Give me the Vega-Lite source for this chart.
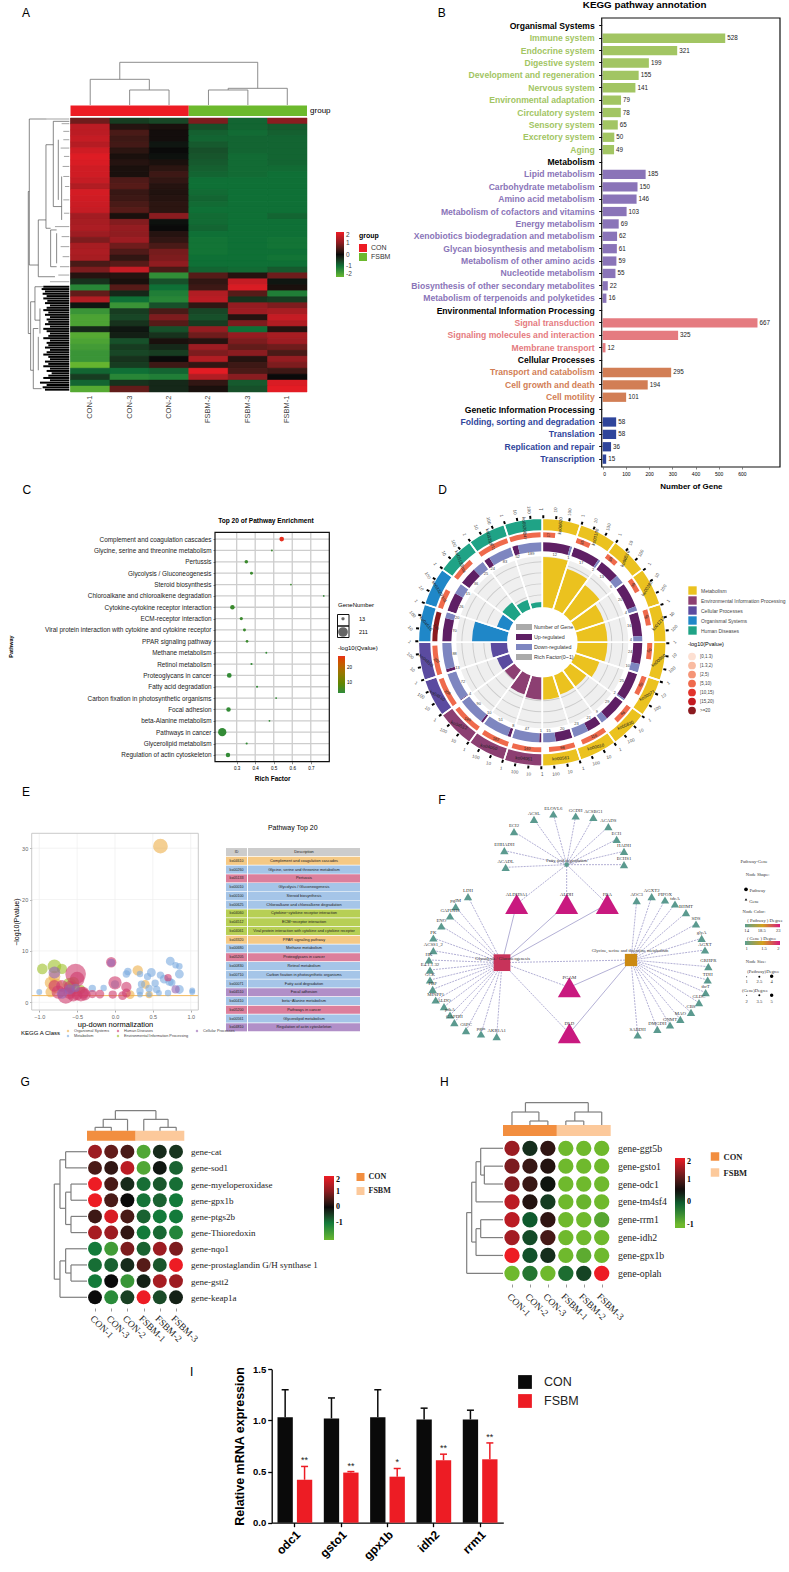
{"$schema":"https://vega.github.io/schema/vega-lite/v6.json","width":789,"height":1572,"padding":0,"autosize":"none","background":"white",
"config":{"font":"Liberation Sans","view":{"stroke":null},"axis":{"grid":false},"legend":{"titleFontWeight":"normal"}},
"resolve":{"scale":{"x":"independent","y":"independent","color":"independent","fill":"independent","stroke":"independent","size":"independent","shape":"independent","theta":"independent","radius":"independent","angle":"independent","xOffset":"independent"}},
"datasets":{
"ha":[{"r":1,"c":"CON-1","v":0.8},{"r":1,"c":"CON-3","v":-0.5},{"r":1,"c":"CON-2","v":-0.6},{"r":1,"c":"FSBM-2","v":0.9},{"r":1,"c":"FSBM-3","v":-0.9},{"r":1,"c":"FSBM-1","v":1},{"r":2,"c":"CON-1","v":1.5},{"r":2,"c":"CON-3","v":0.2},{"r":2,"c":"CON-2","v":0.1},{"r":2,"c":"FSBM-2","v":-0.7},{"r":2,"c":"FSBM-3","v":-0.9},{"r":2,"c":"FSBM-1","v":-0.8},{"r":3,"c":"CON-1","v":1.5},{"r":3,"c":"CON-3","v":0.5},{"r":3,"c":"CON-2","v":0.05},{"r":3,"c":"FSBM-2","v":-0.85},{"r":3,"c":"FSBM-3","v":-0.95},{"r":3,"c":"FSBM-1","v":-0.85},{"r":4,"c":"CON-1","v":1.6},{"r":4,"c":"CON-3","v":0.4},{"r":4,"c":"CON-2","v":0.05},{"r":4,"c":"FSBM-2","v":-0.9},{"r":4,"c":"FSBM-3","v":-0.9},{"r":4,"c":"FSBM-1","v":-0.9},{"r":5,"c":"CON-1","v":1.45},{"r":5,"c":"CON-3","v":0.45},{"r":5,"c":"CON-2","v":-0.1},{"r":5,"c":"FSBM-2","v":-0.8},{"r":5,"c":"FSBM-3","v":-0.9},{"r":5,"c":"FSBM-1","v":-0.9},{"r":6,"c":"CON-1","v":1.7},{"r":6,"c":"CON-3","v":0.25},{"r":6,"c":"CON-2","v":0},{"r":6,"c":"FSBM-2","v":-0.7},{"r":6,"c":"FSBM-3","v":-0.9},{"r":6,"c":"FSBM-1","v":-0.9},{"r":7,"c":"CON-1","v":1.85},{"r":7,"c":"CON-3","v":0.1},{"r":7,"c":"CON-2","v":-0.05},{"r":7,"c":"FSBM-2","v":-0.75},{"r":7,"c":"FSBM-3","v":-0.95},{"r":7,"c":"FSBM-1","v":-0.9},{"r":8,"c":"CON-1","v":1.8},{"r":8,"c":"CON-3","v":0.2},{"r":8,"c":"CON-2","v":0.1},{"r":8,"c":"FSBM-2","v":-0.8},{"r":8,"c":"FSBM-3","v":-0.95},{"r":8,"c":"FSBM-1","v":-0.9},{"r":9,"c":"CON-1","v":1.7},{"r":9,"c":"CON-3","v":0.1},{"r":9,"c":"CON-2","v":0.25},{"r":9,"c":"FSBM-2","v":-0.85},{"r":9,"c":"FSBM-3","v":-0.95},{"r":9,"c":"FSBM-1","v":-0.95},{"r":10,"c":"CON-1","v":1.7},{"r":10,"c":"CON-3","v":0.1},{"r":10,"c":"CON-2","v":0.4},{"r":10,"c":"FSBM-2","v":-0.9},{"r":10,"c":"FSBM-3","v":-0.95},{"r":10,"c":"FSBM-1","v":-1},{"r":11,"c":"CON-1","v":1.6},{"r":11,"c":"CON-3","v":0.55},{"r":11,"c":"CON-2","v":0.3},{"r":11,"c":"FSBM-2","v":-1},{"r":11,"c":"FSBM-3","v":-1},{"r":11,"c":"FSBM-1","v":-1},{"r":12,"c":"CON-1","v":1.4},{"r":12,"c":"CON-3","v":0.6},{"r":12,"c":"CON-2","v":0.2},{"r":12,"c":"FSBM-2","v":-1},{"r":12,"c":"FSBM-3","v":-1},{"r":12,"c":"FSBM-1","v":-1},{"r":13,"c":"CON-1","v":1.75},{"r":13,"c":"CON-3","v":0.35},{"r":13,"c":"CON-2","v":0.15},{"r":13,"c":"FSBM-2","v":-0.95},{"r":13,"c":"FSBM-3","v":-1},{"r":13,"c":"FSBM-1","v":-1},{"r":14,"c":"CON-1","v":1.7},{"r":14,"c":"CON-3","v":0.4},{"r":14,"c":"CON-2","v":0.2},{"r":14,"c":"FSBM-2","v":-0.9},{"r":14,"c":"FSBM-3","v":-1},{"r":14,"c":"FSBM-1","v":-1},{"r":15,"c":"CON-1","v":1.65},{"r":15,"c":"CON-3","v":0.5},{"r":15,"c":"CON-2","v":0.25},{"r":15,"c":"FSBM-2","v":-0.95},{"r":15,"c":"FSBM-3","v":-1},{"r":15,"c":"FSBM-1","v":-1},{"r":16,"c":"CON-1","v":1.6},{"r":16,"c":"CON-3","v":0.6},{"r":16,"c":"CON-2","v":0.25},{"r":16,"c":"FSBM-2","v":-1},{"r":16,"c":"FSBM-3","v":-1},{"r":16,"c":"FSBM-1","v":-1},{"r":17,"c":"CON-1","v":1.25},{"r":17,"c":"CON-3","v":0.1},{"r":17,"c":"CON-2","v":1},{"r":17,"c":"FSBM-2","v":-0.95},{"r":17,"c":"FSBM-3","v":-1},{"r":17,"c":"FSBM-1","v":-0.9},{"r":18,"c":"CON-1","v":1.3},{"r":18,"c":"CON-3","v":0.95},{"r":18,"c":"CON-2","v":-0.05},{"r":18,"c":"FSBM-2","v":-0.95},{"r":18,"c":"FSBM-3","v":-1},{"r":18,"c":"FSBM-1","v":-1},{"r":19,"c":"CON-1","v":1.35},{"r":19,"c":"CON-3","v":1.1},{"r":19,"c":"CON-2","v":0},{"r":19,"c":"FSBM-2","v":-0.9},{"r":19,"c":"FSBM-3","v":-1},{"r":19,"c":"FSBM-1","v":-1},{"r":20,"c":"CON-1","v":1.2},{"r":20,"c":"CON-3","v":1.05},{"r":20,"c":"CON-2","v":0.2},{"r":20,"c":"FSBM-2","v":-1},{"r":20,"c":"FSBM-3","v":-1},{"r":20,"c":"FSBM-1","v":-1},{"r":21,"c":"CON-1","v":0.9},{"r":21,"c":"CON-3","v":1.2},{"r":21,"c":"CON-2","v":0.3},{"r":21,"c":"FSBM-2","v":-1.05},{"r":21,"c":"FSBM-3","v":-1},{"r":21,"c":"FSBM-1","v":-1.05},{"r":22,"c":"CON-1","v":1.3},{"r":22,"c":"CON-3","v":0.8},{"r":22,"c":"CON-2","v":0.5},{"r":22,"c":"FSBM-2","v":-1.05},{"r":22,"c":"FSBM-3","v":-1},{"r":22,"c":"FSBM-1","v":-1.05},{"r":23,"c":"CON-1","v":1.35},{"r":23,"c":"CON-3","v":0.55},{"r":23,"c":"CON-2","v":0.85},{"r":23,"c":"FSBM-2","v":-1.05},{"r":23,"c":"FSBM-3","v":-1},{"r":23,"c":"FSBM-1","v":-1},{"r":24,"c":"CON-1","v":1.3},{"r":24,"c":"CON-3","v":0.3},{"r":24,"c":"CON-2","v":0.9},{"r":24,"c":"FSBM-2","v":-1},{"r":24,"c":"FSBM-3","v":-1},{"r":24,"c":"FSBM-1","v":-1.05},{"r":25,"c":"CON-1","v":0.5},{"r":25,"c":"CON-3","v":0.6},{"r":25,"c":"CON-2","v":1.05},{"r":25,"c":"FSBM-2","v":-1},{"r":25,"c":"FSBM-3","v":-1},{"r":25,"c":"FSBM-1","v":-1},{"r":26,"c":"CON-1","v":0.9},{"r":26,"c":"CON-3","v":1.6},{"r":26,"c":"CON-2","v":0.5},{"r":26,"c":"FSBM-2","v":-0.9},{"r":26,"c":"FSBM-3","v":-0.95},{"r":26,"c":"FSBM-1","v":-0.8},{"r":27,"c":"CON-1","v":0.2},{"r":27,"c":"CON-3","v":0.2},{"r":27,"c":"CON-2","v":-1.4},{"r":27,"c":"FSBM-2","v":0.6},{"r":27,"c":"FSBM-3","v":0.2},{"r":27,"c":"FSBM-1","v":0.8},{"r":28,"c":"CON-1","v":-0.4},{"r":28,"c":"CON-3","v":0.1},{"r":28,"c":"CON-2","v":-0.7},{"r":28,"c":"FSBM-2","v":0.3},{"r":28,"c":"FSBM-3","v":1.6},{"r":28,"c":"FSBM-1","v":-0.1},{"r":29,"c":"CON-1","v":-1.3},{"r":29,"c":"CON-3","v":0.6},{"r":29,"c":"CON-2","v":-1},{"r":29,"c":"FSBM-2","v":0.4},{"r":29,"c":"FSBM-3","v":1.8},{"r":29,"c":"FSBM-1","v":0.1},{"r":30,"c":"CON-1","v":0.7},{"r":30,"c":"CON-3","v":-0.3},{"r":30,"c":"CON-2","v":-1.2},{"r":30,"c":"FSBM-2","v":1.4},{"r":30,"c":"FSBM-3","v":0.6},{"r":30,"c":"FSBM-1","v":-1.2},{"r":31,"c":"CON-1","v":1.4},{"r":31,"c":"CON-3","v":-1},{"r":31,"c":"CON-2","v":-1.3},{"r":31,"c":"FSBM-2","v":1.5},{"r":31,"c":"FSBM-3","v":-0.4},{"r":31,"c":"FSBM-1","v":-0.5},{"r":32,"c":"CON-1","v":-0.1},{"r":32,"c":"CON-3","v":-1.5},{"r":32,"c":"CON-2","v":-0.7},{"r":32,"c":"FSBM-2","v":0.3},{"r":32,"c":"FSBM-3","v":1.1},{"r":32,"c":"FSBM-1","v":0.9},{"r":33,"c":"CON-1","v":-1.5},{"r":33,"c":"CON-3","v":-0.5},{"r":33,"c":"CON-2","v":0.5},{"r":33,"c":"FSBM-2","v":-0.6},{"r":33,"c":"FSBM-3","v":1.2},{"r":33,"c":"FSBM-1","v":1.3},{"r":34,"c":"CON-1","v":-1.7},{"r":34,"c":"CON-3","v":-0.6},{"r":34,"c":"CON-2","v":0.9},{"r":34,"c":"FSBM-2","v":-0.7},{"r":34,"c":"FSBM-3","v":0.2},{"r":34,"c":"FSBM-1","v":1.6},{"r":35,"c":"CON-1","v":-1.7},{"r":35,"c":"CON-3","v":-0.4},{"r":35,"c":"CON-2","v":0.6},{"r":35,"c":"FSBM-2","v":-0.5},{"r":35,"c":"FSBM-3","v":0.9},{"r":35,"c":"FSBM-1","v":1.4},{"r":36,"c":"CON-1","v":-0.3},{"r":36,"c":"CON-3","v":-0.1},{"r":36,"c":"CON-2","v":-0.7},{"r":36,"c":"FSBM-2","v":1.1},{"r":36,"c":"FSBM-3","v":-1},{"r":36,"c":"FSBM-1","v":0.2},{"r":37,"c":"CON-1","v":-1.8},{"r":37,"c":"CON-3","v":-0.2},{"r":37,"c":"CON-2","v":-0.4},{"r":37,"c":"FSBM-2","v":0.8},{"r":37,"c":"FSBM-3","v":1.1},{"r":37,"c":"FSBM-1","v":1.3},{"r":38,"c":"CON-1","v":-1.7},{"r":38,"c":"CON-3","v":-0.7},{"r":38,"c":"CON-2","v":0.1},{"r":38,"c":"FSBM-2","v":0.2},{"r":38,"c":"FSBM-3","v":0.9},{"r":38,"c":"FSBM-1","v":1.2},{"r":39,"c":"CON-1","v":-1.6},{"r":39,"c":"CON-3","v":-0.5},{"r":39,"c":"CON-2","v":-0.3},{"r":39,"c":"FSBM-2","v":1.2},{"r":39,"c":"FSBM-3","v":0.7},{"r":39,"c":"FSBM-1","v":0.8},{"r":40,"c":"CON-1","v":-1.5},{"r":40,"c":"CON-3","v":-0.6},{"r":40,"c":"CON-2","v":-0.5},{"r":40,"c":"FSBM-2","v":0.9},{"r":40,"c":"FSBM-3","v":1},{"r":40,"c":"FSBM-1","v":0.5},{"r":41,"c":"CON-1","v":-1.5},{"r":41,"c":"CON-3","v":-0.4},{"r":41,"c":"CON-2","v":0},{"r":41,"c":"FSBM-2","v":1.4},{"r":41,"c":"FSBM-3","v":0.2},{"r":41,"c":"FSBM-1","v":1.1},{"r":42,"c":"CON-1","v":-1.95},{"r":42,"c":"CON-3","v":-0.5},{"r":42,"c":"CON-2","v":0.4},{"r":42,"c":"FSBM-2","v":0.3},{"r":42,"c":"FSBM-3","v":0.4},{"r":42,"c":"FSBM-1","v":0.9},{"r":43,"c":"CON-1","v":-0.9},{"r":43,"c":"CON-3","v":-1},{"r":43,"c":"CON-2","v":-0.9},{"r":43,"c":"FSBM-2","v":1.9},{"r":43,"c":"FSBM-3","v":0.5},{"r":43,"c":"FSBM-1","v":0.4},{"r":44,"c":"CON-1","v":-0.5},{"r":44,"c":"CON-3","v":-1.3},{"r":44,"c":"CON-2","v":-1.2},{"r":44,"c":"FSBM-2","v":1.4},{"r":44,"c":"FSBM-3","v":1},{"r":44,"c":"FSBM-1","v":0},{"r":45,"c":"CON-1","v":-0.9},{"r":45,"c":"CON-3","v":-0.4},{"r":45,"c":"CON-2","v":-0.3},{"r":45,"c":"FSBM-2","v":0.3},{"r":45,"c":"FSBM-3","v":-0.8},{"r":45,"c":"FSBM-1","v":1.8},{"r":46,"c":"CON-1","v":-1.8},{"r":46,"c":"CON-3","v":0.7},{"r":46,"c":"CON-2","v":-0.3},{"r":46,"c":"FSBM-2","v":0.1},{"r":46,"c":"FSBM-3","v":-0.7},{"r":46,"c":"FSBM-1","v":1.9}],
"b":[{"p":"Organismal Systems","c":"H","n":0},{"p":"Immune system","c":"O","n":528},{"p":"Endocrine system","c":"O","n":321},{"p":"Digestive system","c":"O","n":199},{"p":"Development and regeneration","c":"O","n":155},{"p":"Nervous system","c":"O","n":141},{"p":"Environmental adaptation","c":"O","n":79},{"p":"Circulatory system","c":"O","n":78},{"p":"Sensory system","c":"O","n":65},{"p":"Excretory system","c":"O","n":50},{"p":"Aging","c":"O","n":49},{"p":"Metabolism","c":"H","n":0},{"p":"Lipid metabolism","c":"M","n":185},{"p":"Carbohydrate metabolism","c":"M","n":150},{"p":"Amino acid metabolism","c":"M","n":146},{"p":"Metabolism of cofactors and vitamins","c":"M","n":103},{"p":"Energy metabolism","c":"M","n":69},{"p":"Xenobiotics biodegradation and metabolism","c":"M","n":62},{"p":"Glycan biosynthesis and metabolism","c":"M","n":61},{"p":"Metabolism of other amino acids","c":"M","n":59},{"p":"Nucleotide metabolism","c":"M","n":55},{"p":"Biosynthesis of other secondary metabolites","c":"M","n":22},{"p":"Metabolism of terpenoids and polyketides","c":"M","n":16},{"p":"Environmental Information Processing","c":"H","n":0},{"p":"Signal transduction","c":"E","n":667},{"p":"Signaling molecules and interaction","c":"E","n":325},{"p":"Membrane transport","c":"E","n":12},{"p":"Cellular Processes","c":"H","n":0},{"p":"Transport and catabolism","c":"C","n":295},{"p":"Cell growth and death","c":"C","n":194},{"p":"Cell motility","c":"C","n":101},{"p":"Genetic Information Processing","c":"H","n":0},{"p":"Folding, sorting and degradation","c":"G","n":58},{"p":"Translation","c":"G","n":58},{"p":"Replication and repair","c":"G","n":36},{"p":"Transcription","c":"G","n":15}],
"c":[{"p":"Complement and coagulation cascades","rf":0.543,"n":70,"q":28},{"p":"Glycine, serine and threonine metabolism","rf":0.49,"n":14,"q":5},{"p":"Pertussis","rf":0.352,"n":42,"q":5},{"p":"Glycolysis / Gluconeogenesis","rf":0.38,"n":30,"q":5},{"p":"Steroid biosynthesis","rf":0.593,"n":13,"q":5},{"p":"Chloroalkane and chloroalkene degradation","rf":0.77,"n":13,"q":4},{"p":"Cytokine-cytokine receptor interaction","rf":0.277,"n":65,"q":5},{"p":"ECM-receptor interaction","rf":0.325,"n":35,"q":5},{"p":"Viral protein interaction with cytokine and cytokine receptor","rf":0.342,"n":30,"q":5},{"p":"PPAR signaling pathway","rf":0.356,"n":25,"q":5},{"p":"Methane metabolism","rf":0.46,"n":15,"q":4},{"p":"Retinol metabolism","rf":0.38,"n":18,"q":4},{"p":"Proteoglycans in cancer","rf":0.26,"n":73,"q":4},{"p":"Fatty acid degradation","rf":0.41,"n":17,"q":4},{"p":"Carbon fixation in photosynthetic organisms","rf":0.513,"n":14,"q":4},{"p":"Focal adhesion","rf":0.256,"n":65,"q":4},{"p":"beta-Alanine metabolism","rf":0.477,"n":14,"q":4},{"p":"Pathways in cancer","rf":0.222,"n":211,"q":4},{"p":"Glycerolipid metabolism","rf":0.354,"n":18,"q":4},{"p":"Regulation of actin cytoskeleton","rf":0.253,"n":65,"q":4}],
"d":[{"a":0,"b":1,"m":0.5,"u":0.9,"tu":0.45,"td":0.95,"r":0.38,"rl":0.19,"id":"ko00620","cat":"Metabolism","rich":0.98,"up":12,"dn":1,"n":17,"pb":"[5,10)"},{"a":1,"b":2,"m":1.5,"u":1.9,"tu":1.45,"td":1.95,"r":1.45,"rl":1.22,"id":"ko00100","cat":"Metabolism","rich":0.83,"up":17,"dn":2,"n":35,"pb":"[5,10)"},{"a":2,"b":3,"m":2.5,"u":2.68,"tu":2.34,"td":2.84,"r":2.4,"rl":2.2,"id":"ko00510","cat":"Metabolism","rich":0.71,"up":13,"dn":6,"n":38,"pb":"[5,10)"},{"a":3,"b":4,"m":3.5,"u":3.83,"tu":3.42,"td":3.92,"r":3.45,"rl":3.22,"id":"ko00280","cat":"Metabolism","rich":0.59,"up":20,"dn":4,"n":39,"pb":"[5,10)"},{"a":4,"b":5,"m":4.5,"u":4.8,"tu":4.4,"td":4.9,"r":4.5,"rl":4.25,"id":"ko01212","cat":"Metabolism","rich":0.59,"up":16,"dn":4,"n":60,"pb":"[5,10)"},{"a":5,"b":6,"m":5.5,"u":5.7,"tu":5.35,"td":5.85,"r":5.5,"rl":5.25,"id":"ko00980","cat":"Metabolism","rich":0.59,"up":24,"dn":10,"n":50,"pb":"[5,10)"},{"a":6,"b":7,"m":6.5,"u":6.92,"tu":6.46,"td":6.96,"r":6.6,"rl":6.3,"id":"ko00071","cat":"Metabolism","rich":0.5,"up":25,"dn":2,"n":60,"pb":"[5,10)"},{"a":7,"b":8,"m":7.5,"u":7.76,"tu":7.38,"td":7.88,"r":7.6,"rl":7.3,"id":"ko00830","cat":"Metabolism","rich":0.4,"up":29,"dn":9,"n":66,"pb":"[5,10)"},{"a":8,"b":9,"m":8.5,"u":8.48,"tu":8.24,"td":8.74,"r":8.8,"rl":8.4,"id":"ko00010","cat":"Metabolism","rich":0.4,"up":21,"dn":23,"n":116,"pb":"[5,10)"},{"a":9,"b":10,"m":9.5,"u":9.57,"tu":9.28,"td":9.78,"r":9.8,"rl":9.4,"id":"ko00561","cat":"Metabolism","rich":0.44,"up":20,"dn":15,"n":98,"pb":"[5,10)"},{"a":10,"b":11,"m":10.5,"u":10.1,"tu":10.05,"td":10.55,"r":10.9,"rl":10.45,"id":"ko04061","cat":"Environmental Information Processing","rich":0.44,"up":1,"dn":47,"n":140,"pb":"[5,10)"},{"a":11,"b":12,"m":11.5,"u":11.13,"tu":11.06,"td":11.56,"r":11.85,"rl":11.42,"id":"ko04060","cat":"Environmental Information Processing","rich":0.4,"up":8,"dn":51,"n":182,"pb":"[5,10)"},{"a":12,"b":13,"m":12.5,"u":12.1,"tu":12.05,"td":12.55,"r":12.9,"rl":12.45,"id":"ko04512","cat":"Environmental Information Processing","rich":0.24,"up":10,"dn":90,"n":180,"pb":"[5,10)"},{"a":13,"b":14,"m":13.5,"u":13.05,"tu":13.03,"td":13.53,"r":13.9,"rl":13.45,"id":"ko04510","cat":"Cellular Processes","rich":0.26,"up":4,"dn":72,"n":206,"pb":"[5,10)"},{"a":14,"b":15,"m":14.5,"u":14.13,"tu":14.07,"td":14.57,"r":14.9,"rl":14.45,"id":"ko04810","cat":"Cellular Processes","rich":0.33,"up":13,"dn":88,"n":207,"pb":"[5,10)"},{"a":15,"b":16,"m":15.5,"u":15.78,"tu":15.39,"td":15.89,"r":15.9,"rl":15.45,"id":"ko04610","cat":"Organismal Systems","rich":0.69,"up":70,"dn":20,"n":130,"pb":">=20"},{"a":16,"b":17,"m":16.5,"u":16.63,"tu":16.32,"td":16.82,"r":16.6,"rl":16.3,"id":"ko03320","cat":"Organismal Systems","rich":0.26,"up":26,"dn":15,"n":101,"pb":"[5,10)"},{"a":17,"b":18,"m":17.5,"u":17.6,"tu":17.3,"td":17.8,"r":17.7,"rl":17.35,"id":"ko05133","cat":"Human Diseases","rich":0.3,"up":36,"dn":25,"n":106,"pb":"[5,10)"},{"a":18,"b":19,"m":18.5,"u":18.22,"tu":18.11,"td":18.61,"r":18.95,"rl":18.47,"id":"ko05205","cat":"Human Diseases","rich":0.2,"up":24,"dn":83,"n":211,"pb":"[5,10)"},{"a":19,"b":20,"m":19.5,"u":19.21,"tu":19.1,"td":19.6,"r":19.95,"rl":19.47,"id":"ko05200","cat":"Human Diseases","rich":0.11,"up":52,"dn":189,"n":247,"pb":"[5,10)"}],
"dt":[{"t":0,"t2":0.05,"l":"1"},{"t":0.33,"t2":0.38,"l":"10"},{"t":0.67,"t2":0.72,"l":"100"},{"t":1,"t2":1.05,"l":"1"},{"t":1.33,"t2":1.38,"l":"10"},{"t":1.67,"t2":1.72,"l":"100"},{"t":2,"t2":2.05,"l":"1"},{"t":2.33,"t2":2.38,"l":"10"},{"t":2.67,"t2":2.72,"l":"100"},{"t":3,"t2":3.05,"l":"1"},{"t":3.33,"t2":3.38,"l":"10"},{"t":3.67,"t2":3.72,"l":"100"},{"t":4,"t2":4.05,"l":"1"},{"t":4.33,"t2":4.38,"l":"10"},{"t":4.67,"t2":4.72,"l":"100"},{"t":5,"t2":5.05,"l":"1"},{"t":5.33,"t2":5.38,"l":"10"},{"t":5.67,"t2":5.72,"l":"100"},{"t":6,"t2":6.05,"l":"1"},{"t":6.33,"t2":6.38,"l":"10"},{"t":6.67,"t2":6.72,"l":"100"},{"t":7,"t2":7.05,"l":"1"},{"t":7.33,"t2":7.38,"l":"10"},{"t":7.67,"t2":7.72,"l":"100"},{"t":8,"t2":8.05,"l":"1"},{"t":8.33,"t2":8.38,"l":"10"},{"t":8.67,"t2":8.72,"l":"100"},{"t":9,"t2":9.05,"l":"1"},{"t":9.33,"t2":9.38,"l":"10"},{"t":9.67,"t2":9.72,"l":"100"},{"t":10,"t2":10.05,"l":"1"},{"t":10.33,"t2":10.38,"l":"10"},{"t":10.67,"t2":10.72,"l":"100"},{"t":11,"t2":11.05,"l":"1"},{"t":11.33,"t2":11.38,"l":"10"},{"t":11.67,"t2":11.72,"l":"100"},{"t":12,"t2":12.05,"l":"1"},{"t":12.33,"t2":12.38,"l":"10"},{"t":12.67,"t2":12.72,"l":"100"},{"t":13,"t2":13.05,"l":"1"},{"t":13.33,"t2":13.38,"l":"10"},{"t":13.67,"t2":13.72,"l":"100"},{"t":14,"t2":14.05,"l":"1"},{"t":14.33,"t2":14.38,"l":"10"},{"t":14.67,"t2":14.72,"l":"100"},{"t":15,"t2":15.05,"l":"1"},{"t":15.33,"t2":15.38,"l":"10"},{"t":15.67,"t2":15.72,"l":"100"},{"t":16,"t2":16.05,"l":"1"},{"t":16.33,"t2":16.38,"l":"10"},{"t":16.67,"t2":16.72,"l":"100"},{"t":17,"t2":17.05,"l":"1"},{"t":17.33,"t2":17.38,"l":"10"},{"t":17.67,"t2":17.72,"l":"100"},{"t":18,"t2":18.05,"l":"1"},{"t":18.33,"t2":18.38,"l":"10"},{"t":18.67,"t2":18.72,"l":"100"},{"t":19,"t2":19.05,"l":"1"},{"t":19.33,"t2":19.38,"l":"10"},{"t":19.67,"t2":19.72,"l":"100"}],
"hubs":[{"h":"G","hx":306,"hy":548},{"h":"O","hx":693,"hy":540},{"h":"F","hx":500,"hy":254}],
"net":[{"n":"ACADL","x":317,"y":262,"h":"F","k":"g"},{"n":"EHHADH","x":313,"y":212,"h":"F","k":"g"},{"n":"ECI2","x":342,"y":155,"h":"F","k":"g"},{"n":"ACSL","x":402,"y":118,"h":"F","k":"g"},{"n":"ELOVL6","x":460,"y":102,"h":"F","k":"g"},{"n":"GCDH","x":527,"y":108,"h":"F","k":"g"},{"n":"ACSBG1","x":580,"y":112,"h":"F","k":"g"},{"n":"ACADS","x":625,"y":140,"h":"F","k":"g"},{"n":"ECI1","x":650,"y":178,"h":"F","k":"g"},{"n":"HADH","x":672,"y":214,"h":"F","k":"g"},{"n":"ECHS1","x":672,"y":254,"h":"F","k":"g"},{"n":"ALDH9A1","x":350,"y":372,"h":"F","h2":"G","k":"b"},{"n":"ALDH","x":500,"y":372,"h":"F","h2":"G","k":"b"},{"n":"FBA","x":622,"y":372,"h":"F","h2":"G","k":"b"},{"n":"PGAM","x":508,"y":622,"h":"G","h2":"O","k":"b"},{"n":"DLD","x":508,"y":760,"h":"G","h2":"O","k":"b"},{"n":"LDH","x":204,"y":350,"h":"G","k":"g"},{"n":"pgIM","x":167,"y":380,"h":"G","k":"g"},{"n":"GAPDHS","x":150,"y":408,"h":"G","k":"g"},{"n":"ENO","x":124,"y":438,"h":"G","k":"g"},{"n":"PK","x":100,"y":474,"h":"G","k":"g"},{"n":"ACSS1_2","x":100,"y":512,"h":"G","k":"g"},{"n":"HK","x":87,"y":540,"h":"G","k":"g"},{"n":"E4.1.1.32","x":90,"y":570,"h":"G","k":"g"},{"n":"GCK","x":90,"y":600,"h":"G","k":"g"},{"n":"FBP","x":98,"y":628,"h":"G","k":"g"},{"n":"MINPP1","x":107,"y":660,"h":"G","k":"g"},{"n":"ALDO","x":132,"y":680,"h":"G","k":"g"},{"n":"pfkA","x":150,"y":705,"h":"G","k":"g"},{"n":"GAPDH","x":163,"y":728,"h":"G","k":"g"},{"n":"G6PC","x":198,"y":752,"h":"G","k":"g"},{"n":"pgm","x":243,"y":762,"h":"G","k":"g"},{"n":"AKR1A1","x":290,"y":770,"h":"G","k":"g"},{"n":"AOC3","x":710,"y":362,"h":"O","k":"g"},{"n":"AGXT2","x":755,"y":350,"h":"O","k":"g"},{"n":"PIPOX","x":795,"y":360,"h":"O","k":"g"},{"n":"tdcA","x":825,"y":372,"h":"O","k":"g"},{"n":"BHMT","x":858,"y":398,"h":"O","k":"g"},{"n":"SDS","x":888,"y":432,"h":"O","k":"g"},{"n":"glyA","x":905,"y":475,"h":"O","k":"g"},{"n":"AGXT","x":915,"y":510,"h":"O","k":"g"},{"n":"GRHPR","x":925,"y":560,"h":"O","k":"g"},{"n":"TDH","x":923,"y":600,"h":"O","k":"g"},{"n":"thrT","x":917,"y":638,"h":"O","k":"g"},{"n":"GLDC","x":897,"y":668,"h":"O","k":"g"},{"n":"CBS","x":873,"y":697,"h":"O","k":"g"},{"n":"MAO","x":841,"y":718,"h":"O","k":"g"},{"n":"GNMT","x":810,"y":735,"h":"O","k":"g"},{"n":"DMGDH","x":772,"y":748,"h":"O","k":"g"},{"n":"SARDH","x":713,"y":765,"h":"O","k":"g"},{"n":"Glycolysis / Gluconeogenesis","x":306,"y":548,"k":"G"},{"n":"Glycine, serine and threonine metabolism","x":693,"y":540,"h":"G","k":"O"},{"n":"Fatty acid degradation","x":500,"y":254,"k":"F"}],
"i":[{"g":"odc1","s":"CON","v":1.03,"e":1.3},{"g":"odc1","s":"FSBM","v":0.42,"e":0.55,"st":"**"},{"g":"gsto1","s":"CON","v":1.02,"e":1.22},{"g":"gsto1","s":"FSBM","v":0.49,"e":0.5,"st":"**"},{"g":"gpx1b","s":"CON","v":1.03,"e":1.3},{"g":"gpx1b","s":"FSBM","v":0.45,"e":0.53,"st":"*"},{"g":"idh2","s":"CON","v":1.01,"e":1.12},{"g":"idh2","s":"FSBM","v":0.61,"e":0.67,"st":"**"},{"g":"rrm1","s":"CON","v":1.01,"e":1.1},{"g":"rrm1","s":"FSBM","v":0.62,"e":0.78,"st":"**"}]
},
"layer":[
{"data":{"values":[{"t":"A","x":3.3,"y":0.83},{"t":"B","x":56,"y":0.83},{"t":"C","x":3.4,"y":31.2},{"t":"D","x":56.1,"y":31.2},{"t":"E","x":3.3,"y":50.4},{"t":"F","x":56,"y":50.9},{"t":"G","x":3.2,"y":68.8},{"t":"H","x":56.3,"y":68.8},{"t":"I","x":24.3,"y":87.3}]},"mark":{"type":"text","fontSize":12,"baseline":"middle"},"encoding":{"text":{"field":"t"},"x":{"field":"x","type":"quantitative","axis":null,"scale":{"domain":[0,100],"range":[0,789]}},"y":{"field":"y","type":"quantitative","axis":null,"scale":{"domain":[0,100],"range":[0,1572]}}}},
{"data":{"values":[{"t":"KEGG pathway annotation","x":81.7,"y":0.32,"s":9.8},{"t":"Top 20 of Pathway Enrichment","x":33.7,"y":33.15,"s":6.6}]},"mark":{"type":"text","baseline":"middle","fontWeight":"bold"},"encoding":{"text":{"field":"t"},"size":{"field":"s","type":"quantitative","scale":null},"x":{"field":"x","type":"quantitative","axis":null,"scale":{"domain":[0,100],"range":[0,789]}},"y":{"field":"y","type":"quantitative","axis":null,"scale":{"domain":[0,100],"range":[0,1572]}}}},
{"data":{"values":[{"t":"group","x":40.6,"y":7.06,"s":8},{"t":"Pathway Top 20","x":37.1,"y":52.67,"s":7}]},"mark":{"type":"text","baseline":"middle"},"encoding":{"text":{"field":"t"},"size":{"field":"s","type":"quantitative","scale":null},"x":{"field":"x","type":"quantitative","axis":null,"scale":{"domain":[0,100],"range":[0,789]}},"y":{"field":"y","type":"quantitative","axis":null,"scale":{"domain":[0,100],"range":[0,1572]}}}},

{"data":{"name":"ha"},"mark":{"type":"rect"},"encoding":{"x":{"field":"c","type":"nominal","sort":null,"axis":null,"scale":{"type":"band","range":[70.5,307],"paddingInner":0,"paddingOuter":0}},"y":{"field":"r","type":"ordinal","axis":null,"scale":{"type":"band","range":[118,392],"paddingInner":0,"paddingOuter":0}},"color":{"field":"v","type":"quantitative","scale":{"domain":[-2,-1,0,1,2],"range":["#6ab82e","#0f7036","#0a0a0a","#8a1c20","#ed1c24"]},"legend":{"orient":"none","legendX":336,"legendY":232,"gradientLength":45,"gradientThickness":8,"title":null,"values":[-2,-1,0,1,2],"labelExpr":"''+datum.value","labelFontSize":6.5,"labelColor":"#444"}}}},
{"data":{"name":"ha"},"mark":{"type":"rect","strokeWidth":0.5},"encoding":{"x":{"field":"c","type":"nominal","sort":null,"title":null,"scale":{"type":"band","range":[70.5,307],"paddingInner":0,"paddingOuter":0},"axis":{"orient":"bottom","offset":-1180,"ticks":false,"domain":false,"labelAngle":-90,"labelFontSize":7.5,"labelColor":"#444","labelPadding":3}},"y":{"field":"r","type":"ordinal","axis":null,"scale":{"type":"band","range":[118,392],"paddingInner":0,"paddingOuter":0}},"stroke":{"field":"v","type":"quantitative","legend":null,"scale":{"domain":[-2,-1,0,1,2],"range":["#6ab82e","#0f7036","#0a0a0a","#8a1c20","#ed1c24"]}},"fill":{"field":"v","type":"quantitative","legend":null,"scale":{"domain":[-2,-1,0,1,2],"range":["#6ab82e","#0f7036","#0a0a0a","#8a1c20","#ed1c24"]}}}},
{"data":{"values":[{"g":"CON","x":0,"x2":3,"a":0,"b":1},{"g":"FSBM","x":3,"x2":6,"a":0,"b":1}]},"mark":"rect","encoding":{"x":{"field":"x","type":"quantitative","axis":null,"scale":{"domain":[0,6],"range":[70.5,307],"nice":false}},"x2":{"field":"x2"},"y":{"field":"a","type":"quantitative","axis":null,"scale":{"domain":[0,1],"range":[116,105.5]}},"y2":{"field":"b"},"color":{"field":"g","type":"nominal","scale":{"domain":["CON","FSBM"],"range":["#ed1c24","#6cb92d"]},"legend":{"orient":"none","legendX":359,"legendY":232,"title":"group","titleFontSize":7,"titleFontWeight":"bold","symbolType":"square","symbolSize":64,"symbolStrokeWidth":0,"symbolOpacity":1,"labelFontSize":7,"labelColor":"#333","rowPadding":1}}}},
{"data":{"values":[{"x":1,"x2":2,"y":45,"y2":45},{"x":1,"x2":1,"y":0,"y2":45},{"x":2,"x2":2,"y":0,"y2":45},{"x":0,"x2":1.5,"y":77,"y2":77},{"x":0,"x2":0,"y":0,"y2":77},{"x":1.5,"x2":1.5,"y":45,"y2":77},{"x":3,"x2":4,"y":45,"y2":45},{"x":3,"x2":3,"y":0,"y2":45},{"x":4,"x2":4,"y":0,"y2":45},{"x":3.5,"x2":5,"y":50,"y2":50},{"x":3.5,"x2":3.5,"y":45,"y2":50},{"x":5,"x2":5,"y":0,"y2":50},{"x":0.75,"x2":4.25,"y":128,"y2":128},{"x":0.75,"x2":0.75,"y":77,"y2":128},{"x":4.25,"x2":4.25,"y":50,"y2":128}]},"mark":{"type":"rule","color":"#7f7f7f","strokeWidth":0.9},"encoding":{"x":{"field":"x","type":"quantitative","axis":null,"scale":{"domain":[-0.5,5.5],"range":[70.5,307],"nice":false,"zero":false}},"x2":{"field":"x2"},"y":{"field":"y","type":"quantitative","axis":null,"scale":{"domain":[0,128],"range":[105,62.3],"nice":false}},"y2":{"field":"y2"}}},
{"layer":[
{"data":{"values":[{"x":85,"x2":85,"y":575,"y2":1000},{"x":85,"x2":88,"y":575,"y2":575},{"x":88,"x2":88,"y":358,"y2":795},{"x":88,"x2":140,"y":358,"y2":358},{"x":88,"x2":115,"y":795,"y2":795},{"x":115,"x2":115,"y":660,"y2":830},{"x":115,"x2":138,"y":660,"y2":660},{"x":115,"x2":165,"y":830,"y2":830},{"x":138,"x2":138,"y":435,"y2":685},{"x":138,"x2":160,"y":435,"y2":435},{"x":138,"x2":152,"y":685,"y2":685},{"x":160,"x2":160,"y":365,"y2":620},{"x":160,"x2":208,"y":365,"y2":365},{"x":160,"x2":185,"y":620,"y2":620},{"x":152,"x2":152,"y":690,"y2":800},{"x":152,"x2":170,"y":690,"y2":690},{"x":152,"x2":170,"y":800,"y2":800},{"x":175,"x2":175,"y":420,"y2":600},{"x":185,"x2":185,"y":530,"y2":660},{"x":170,"x2":170,"y":700,"y2":790},{"x":85,"x2":92,"y":1000,"y2":1000},{"x":92,"x2":92,"y":905,"y2":1110},{"x":92,"x2":105,"y":905,"y2":905},{"x":92,"x2":100,"y":1110,"y2":1110},{"x":105,"x2":105,"y":860,"y2":960},{"x":105,"x2":130,"y":860,"y2":860},{"x":105,"x2":120,"y":960,"y2":960},{"x":100,"x2":100,"y":985,"y2":1165},{"x":100,"x2":115,"y":985,"y2":985},{"x":100,"x2":125,"y":1165,"y2":1165},{"x":120,"x2":120,"y":925,"y2":1000},{"x":115,"x2":115,"y":1010,"y2":1110}]},"mark":{"type":"rule","color":"#555","strokeWidth":0.7},"encoding":{"x":{"field":"x","type":"quantitative","axis":null,"scale":{"domain":[85,208],"range":[28.3,69.3],"nice":false,"zero":false}},"x2":{"field":"x2"},"y":{"field":"y","type":"quantitative","axis":null,"scale":{"domain":[355,1175],"range":[118,392],"nice":false,"zero":false}},"y2":{"field":"y2"}}},
{"data":{"values":[{"x":140,"y":358},{"x":185,"y":372},{"x":190,"y":395},{"x":190,"y":420},{"x":182,"y":445},{"x":192,"y":470},{"x":188,"y":500},{"x":190,"y":530},{"x":195,"y":560},{"x":190,"y":600},{"x":192,"y":640},{"x":165,"y":680},{"x":185,"y":710},{"x":182,"y":740},{"x":188,"y":770},{"x":180,"y":800},{"x":175,"y":825},{"x":150,"y":845}]},"mark":{"type":"rule","color":"#666","strokeWidth":0.6},"encoding":{"x":{"field":"x","type":"quantitative","axis":null,"scale":{"domain":[85,208],"range":[28.3,69.3],"nice":false,"zero":false}},"x2":{"datum":208},"y":{"field":"y","type":"quantitative","axis":null,"scale":{"domain":[355,1175],"range":[118,392],"nice":false,"zero":false}}}},
{"data":{"values":[{"x":130,"y":860},{"x":125,"y":867},{"x":135,"y":874},{"x":128,"y":881},{"x":140,"y":888},{"x":130,"y":895},{"x":142,"y":902},{"x":135,"y":909},{"x":150,"y":916},{"x":140,"y":923},{"x":130,"y":930},{"x":145,"y":937},{"x":135,"y":944},{"x":150,"y":951},{"x":140,"y":958},{"x":145,"y":965},{"x":135,"y":972},{"x":150,"y":979},{"x":130,"y":986},{"x":140,"y":993},{"x":150,"y":1000},{"x":145,"y":1007},{"x":130,"y":1014},{"x":150,"y":1021},{"x":140,"y":1028},{"x":145,"y":1035},{"x":135,"y":1042},{"x":150,"y":1049},{"x":140,"y":1056},{"x":130,"y":1063},{"x":145,"y":1070},{"x":150,"y":1077},{"x":135,"y":1084},{"x":145,"y":1091},{"x":130,"y":1098},{"x":150,"y":1105},{"x":140,"y":1112},{"x":155,"y":1119},{"x":145,"y":1126},{"x":130,"y":1133},{"x":150,"y":1140},{"x":120,"y":1147},{"x":140,"y":1154},{"x":128,"y":1161},{"x":135,"y":1168}]},"mark":{"type":"rule","color":"#000","strokeWidth":2},"encoding":{"x":{"field":"x","type":"quantitative","axis":null,"scale":{"domain":[85,208],"range":[28.3,69.3],"nice":false,"zero":false}},"x2":{"datum":208},"y":{"field":"y","type":"quantitative","axis":null,"scale":{"domain":[355,1175],"range":[118,392],"nice":false,"zero":false}}}}
]},

{"layer":[
{"data":{"name":"b"},"mark":{"type":"bar"},"encoding":{"x":{"field":"n","type":"quantitative","title":"Number of Gene","scale":{"domain":[-4.3,764],"range":[601.7,780],"nice":false,"zero":false},"axis":{"orient":"bottom","offset":-1105,"values":[0,100,200,300,400,500,600],"labelFontSize":5,"tickSize":2,"domain":false,"titleFontSize":8,"titleFontWeight":"bold","titlePadding":6}},"x2":{"datum":0},"y":{"field":"p","type":"nominal","sort":null,"title":null,"scale":{"type":"band","range":[18,467],"paddingInner":0.25,"paddingOuter":0.26},"axis":{"orient":"left","offset":-601.7,"labels":false,"domain":false,"tickSize":3,"tickWidth":1,"tickColor":"#000"}},"color":{"field":"c","type":"nominal","legend":null,"scale":{"domain":["H","O","M","E","C","G"],"range":["#000000","#a2c563","#8a74b8","#e57b80","#d27e55","#2f459b"]}}}},
{"data":{"name":"b"},"mark":{"type":"text","align":"right","dx":-8,"fontSize":8.6,"fontWeight":"bold"},"encoding":{"x":{"datum":0,"type":"quantitative","scale":{"domain":[-4.3,764],"range":[601.7,780],"nice":false,"zero":false}},"y":{"field":"p","type":"nominal","sort":null},"text":{"field":"p"},"color":{"field":"c","type":"nominal","legend":null}}},
{"data":{"name":"b"},"transform":[{"filter":"datum.n>0"}],"mark":{"type":"text","align":"left","dx":2,"fontSize":6.3,"color":"#222"},"encoding":{"x":{"field":"n","type":"quantitative"},"y":{"field":"p","type":"nominal","sort":null},"text":{"field":"n"}}}
]},
{"data":{"values":[{"a":0,"b":1}]},"mark":{"type":"rect","fill":null,"stroke":"#111","strokeWidth":1.2},"encoding":{"x":{"field":"a","type":"quantitative","axis":null,"scale":{"domain":[0,1],"range":[601.7,780]}},"x2":{"field":"b"},"y":{"field":"a","type":"quantitative","axis":null,"scale":{"domain":[0,1],"range":[18,467]}},"y2":{"field":"b"}}},

{"data":{"values":[{"v":0.3},{"v":0.4},{"v":0.5},{"v":0.6},{"v":0.7}]},"mark":{"type":"rule","color":"#cdcdcd","strokeWidth":1.3},"encoding":{"x":{"field":"v","type":"quantitative","axis":null,"scale":{"domain":[0.183,0.8],"range":[215,329.3],"nice":false,"zero":false}},"y":{"datum":0,"type":"quantitative","axis":null,"scale":{"domain":[0,1],"range":[532.3,761.7]}},"y2":{"datum":1}}},
{"layer":[
{"data":{"name":"c"},"mark":{"type":"rule","color":"#cdcdcd","strokeWidth":1.3},"encoding":{"x":{"datum":0.183,"type":"quantitative","title":"Rich Factor","scale":{"domain":[0.183,0.8],"range":[215,329.3],"nice":false,"zero":false},"axis":{"orient":"bottom","offset":-810.3,"values":[0.3,0.4,0.5,0.6,0.7],"format":".1f","labelFontSize":4.5,"tickSize":2,"domain":false,"titleFontSize":6.5,"titleFontWeight":"bold","titlePadding":5}},"x2":{"datum":0.8},"y":{"field":"p","type":"nominal","sort":null,"title":"Pathway","scale":{"type":"point","range":[532.3,761.7],"padding":0.6},"axis":{"orient":"left","offset":-215,"labelFontSize":6.4,"labelColor":"#222","labelLimit":300,"tickSize":2,"domain":false,"titleFontSize":5.5,"titleFontWeight":"bold","titleX":-202,"titleY":646}}}},
{"data":{"name":"c"},"mark":{"type":"circle","opacity":1},"encoding":{"x":{"field":"rf","type":"quantitative","title":"Rich Factor"},"y":{"field":"p","type":"nominal","sort":null,"title":"Pathway"},"size":{"field":"n","type":"quantitative","scale":{"domain":[13,211],"range":[3,68]},"legend":{"orient":"none","legendX":338,"legendY":602,"title":"GeneNumber","titleFontSize":6,"titlePadding":8,"values":[13,211],"labelFontSize":5.5,"labelOffset":11,"symbolFillColor":"#666","symbolStrokeColor":"#666","rowPadding":1}},"color":{"field":"q","type":"quantitative","scale":{"domain":[3.5,28],"range":["#2e8b3a","#e8301f"]},"legend":{"orient":"none","legendX":338,"legendY":645,"title":"-log10(Qvalue)","titleFontSize":6,"gradientLength":37,"gradientThickness":7,"values":[10,20],"labelFontSize":4.5}}}}
]},
{"data":{"values":[{"a":0,"b":1}]},"mark":{"type":"rect","fill":null,"stroke":"#111","strokeWidth":1.2},"encoding":{"x":{"field":"a","type":"quantitative","axis":null,"scale":{"domain":[0,1],"range":[215,329.3]}},"x2":{"field":"b"},"y":{"field":"a","type":"quantitative","axis":null,"scale":{"domain":[0,1],"range":[532.3,761.7]}},"y2":{"field":"b"}}},
{"data":{"values":[{"a":0,"b":1,"t":0,"t2":1},{"a":0,"b":1,"t":1,"t2":2}]},"mark":{"type":"rect","fill":null,"stroke":"#111","strokeWidth":1},"encoding":{"x":{"field":"a","type":"quantitative","axis":null,"scale":{"domain":[0,1],"range":[337.5,349]}},"x2":{"field":"b"},"y":{"field":"t","type":"quantitative","axis":null,"scale":{"domain":[0,2],"range":[614.5,637.5]}},"y2":{"field":"t2"}}},

{"encoding":{"x":{"datum":0.5,"type":"quantitative","axis":null,"scale":{"domain":[0,1],"range":[0,1084.6]}},"y":{"datum":0.5,"type":"quantitative","axis":null,"scale":{"domain":[0,1],"range":[0,1284.6]}},"theta":{"field":"a","type":"quantitative","stack":null,"scale":{"domain":[0,20],"range":[0,6.2832]}},"theta2":{"field":"b"}},
"layer":[
{"data":{"name":"d"},"mark":{"type":"arc","radius":86,"radius2":34.5,"color":"#efefef"}},
{"data":{"values":[{"a":0,"b":20,"r":0.24,"r2":0.258},{"a":0,"b":20,"r":0.452,"r2":0.47},{"a":0,"b":20,"r":0.664,"r2":0.682},{"a":0,"b":20,"r":0.876,"r2":0.894}]},"mark":{"type":"arc","color":"#cccccc"},"encoding":{"radius":{"field":"r","type":"quantitative","scale":{"type":"linear","domain":[0,1.03],"range":[34.5,88],"zero":false}},"radius2":{"field":"r2"}}},
{"data":{"name":"d"},"mark":{"type":"arc"},"encoding":{"radius":{"field":"rich","type":"quantitative","scale":{"type":"linear","domain":[0,1.03],"range":[34.5,88],"zero":false}},"radius2":{"datum":0},"color":{"field":"cat","type":"nominal","scale":{"domain":["Metabolism","Environmental Information Processing","Cellular Processes","Organismal Systems","Human Diseases"],"range":["#ebc21f","#8c3f72","#5b4ba0","#1f87c8","#1fa386"]},"legend":{"orient":"none","legendX":688,"legendY":586,"title":null,"symbolType":"square","symbolSize":70,"symbolStrokeWidth":0,"symbolOpacity":1,"labelFontSize":5,"labelColor":"#444","labelLimit":200,"rowPadding":1}}}},
{"data":{"name":"d"},"mark":{"type":"arc","radius":100,"radius2":91,"color":"#5e1f64"},"encoding":{"theta2":{"field":"u"}}},
{"data":{"name":"d"},"mark":{"type":"arc","radius":100,"radius2":91,"color":"#7e86c0"},"encoding":{"theta":{"field":"u","type":"quantitative","stack":null,"scale":{"domain":[0,20],"range":[0,6.2832]}},"theta2":{"field":"b"}}},
{"data":{"name":"d"},"mark":{"type":"arc","radius":110,"radius2":105},"encoding":{"theta2":{"field":"r"},"fill":{"field":"pb","type":"nominal","scale":{"domain":["[0,1.3)","[1.3,2)","[2,5)","[5,10)","[10,15)","[15,20)",">=20"],"range":["#fde0d2","#f9bba1","#f59476","#ef6a4c","#e2332a","#c41a1f","#8b1a1f"]},"legend":{"orient":"none","legendX":688,"legendY":642,"title":"-log10(Pvalue)","titleFontSize":5.5,"symbolType":"circle","symbolSize":60,"symbolStrokeWidth":0,"symbolOpacity":1,"labelFontSize":4.5,"labelColor":"#444","rowPadding":1}}}},
{"data":{"name":"d"},"mark":{"type":"arc","radius":124,"radius2":112},"encoding":{"color":{"field":"cat","type":"nominal"}}},
{"data":{"name":"d"},"mark":{"type":"arc","radius":124,"radius2":34.5,"fillOpacity":0,"stroke":"white","strokeWidth":1.6}},
{"data":{"name":"dt"},"mark":{"type":"arc","radius":127,"radius2":124,"color":"#000"},"encoding":{"theta":{"field":"t","type":"quantitative","stack":null,"scale":{"domain":[0,20],"range":[0,6.2832]}},"theta2":{"field":"t2"}}},
{"data":{"name":"dt"},"mark":{"type":"text","radius":133,"fontSize":4.5,"color":"#555","baseline":"middle"},"encoding":{"theta":{"field":"t","type":"quantitative","stack":null,"scale":{"domain":[0,20],"range":[0,6.2832]}},"theta2":null,"text":{"field":"l"},"angle":{"field":"t","type":"quantitative","legend":null,"scale":{"domain":[0,9.999,10,20],"range":[-90,90,-90,90]}}}},
{"data":{"name":"d"},"mark":{"type":"text","radius":118,"fontSize":4.5,"color":"#222","baseline":"middle"},"encoding":{"theta":{"field":"m","type":"quantitative","stack":null,"scale":{"domain":[0,20],"range":[0,6.2832]}},"theta2":null,"text":{"field":"id"},"angle":{"field":"m","type":"quantitative","legend":null,"scale":{"domain":[0,5,5.001,15,15.001,20],"range":[0,90,-90,90,-90,0]}}}},
{"data":{"name":"d"},"mark":{"type":"text","radius":107.5,"fontSize":4,"color":"#222","baseline":"middle"},"encoding":{"theta":{"field":"rl","type":"quantitative","stack":null,"scale":{"domain":[0,20],"range":[0,6.2832]}},"theta2":null,"text":{"field":"n"},"angle":{"field":"rl","type":"quantitative","legend":null,"scale":{"domain":[0,5,5.001,15,15.001,20],"range":[0,90,-90,90,-90,0]}}}},
{"data":{"name":"d"},"mark":{"type":"text","radius":88.5,"fontSize":4,"color":"#444","baseline":"middle"},"encoding":{"theta":{"field":"tu","type":"quantitative","stack":null,"scale":{"domain":[0,20],"range":[0,6.2832]}},"theta2":null,"text":{"field":"up"}}},
{"data":{"name":"d"},"mark":{"type":"text","radius":88.5,"fontSize":4,"color":"#444","baseline":"middle"},"encoding":{"theta":{"field":"td","type":"quantitative","stack":null,"scale":{"domain":[0,20],"range":[0,6.2832]}},"theta2":null,"text":{"field":"dn"}}}
]},
{"data":{"values":[{"t":"Number of Gene","a":0,"b":1,"f":"g"},{"t":"Up-regulated","a":0,"b":1,"f":"u"},{"t":"Down-regulated","a":0,"b":1,"f":"d"},{"t":"Rich Factor(0~1)","a":0,"b":1,"f":"g"}]},
"encoding":{"y":{"field":"t","type":"nominal","sort":null,"axis":null,"scale":{"type":"band","range":[623,661],"paddingInner":0.4,"paddingOuter":0.1}}},
"layer":[
{"mark":"rect","encoding":{"x":{"field":"a","type":"quantitative","axis":null,"scale":{"domain":[0,1],"range":[516,532]}},"x2":{"field":"b"},"color":{"field":"f","type":"nominal","legend":null,"scale":{"domain":["g","u","d"],"range":["#aaaaaa","#5e1f64","#7e86c0"]}}}},
{"mark":{"type":"text","align":"left","dx":2,"fontSize":5.3,"color":"#333"},"encoding":{"x":{"field":"b","type":"quantitative"},"text":{"field":"t"}}}
]},

{"encoding":{"x":{"field":"nz","type":"quantitative","title":"up-down normalization","scale":{"domain":[-1.1,1.1],"range":[31.7,198.3],"nice":false,"zero":false},"axis":{"orient":"bottom","offset":-562,"values":[-1,-0.5,0,0.5,1],"format":".1f","labelFontSize":5.5,"labelColor":"#666","tickSize":2,"tickColor":"#aaa","domain":false,"titleFontSize":7.5,"titleFontWeight":"normal","titlePadding":1}},"y":{"field":"p","type":"quantitative","title":"\u2212log10(Pvalue)","scale":{"domain":[-1.5,32.9],"range":[1010,833.3],"nice":false,"zero":false},"axis":{"orient":"left","offset":-31.7,"values":[0,10,20,30],"labelFontSize":5.5,"labelColor":"#666","tickSize":2,"tickColor":"#aaa","domain":false,"titleFontSize":7,"titleFontWeight":"normal","titlePadding":2}}},
"layer":[
{"data":{"values":[{"nz":-1,"x2":-1,"p":-1.5,"y2":32.9},{"nz":-0.5,"x2":-0.5,"p":-1.5,"y2":32.9},{"nz":0,"x2":0,"p":-1.5,"y2":32.9},{"nz":0.5,"x2":0.5,"p":-1.5,"y2":32.9},{"nz":1,"x2":1,"p":-1.5,"y2":32.9},{"nz":-1.1,"x2":1.1,"p":0,"y2":0},{"nz":-1.1,"x2":1.1,"p":10,"y2":10},{"nz":-1.1,"x2":1.1,"p":20,"y2":20},{"nz":-1.1,"x2":1.1,"p":30,"y2":30}]},"mark":{"type":"rule","color":"#eeeeee","strokeWidth":0.7},"encoding":{"x2":{"field":"x2"},"y2":{"field":"y2"}}},
{"data":{"values":[{"nz":-1.1,"x2":1.1,"p":1.3,"y2":1.3}]},"mark":{"type":"rule","color":"#f2b95d","strokeWidth":1},"encoding":{"x2":{"field":"x2"},"y2":{"field":"y2"}}},
{"data":{"values":[{"nz":-1.1,"x2":1.1,"p":-1.5,"y2":32.9}]},"mark":{"type":"rect","fill":null,"stroke":"#c4c4c4","strokeWidth":0.9},"encoding":{"x2":{"field":"x2"},"y2":{"field":"y2"}}},
{"data":{"values":[{"nz":0.6,"p":30.4,"n":100,"c":"Organismal Systems"},{"nz":0.3,"p":6.2,"n":49,"c":"Organismal Systems"},{"nz":-0.78,"p":3.2,"n":100,"c":"Organismal Systems"},{"nz":0.4,"p":3.5,"n":36,"c":"Organismal Systems"},{"nz":-0.85,"p":2,"n":49,"c":"Organismal Systems"},{"nz":0.45,"p":1.5,"n":25,"c":"Organismal Systems"},{"nz":0.2,"p":1.5,"n":36,"c":"Organismal Systems"},{"nz":-0.8,"p":5,"n":64,"c":"Organismal Systems"},{"nz":-0.85,"p":3.8,"n":64,"c":"Organismal Systems"},{"nz":-1,"p":2,"n":16,"c":"Metabolism"},{"nz":-0.3,"p":2.7,"n":25,"c":"Metabolism"},{"nz":-0.15,"p":2.8,"n":19,"c":"Metabolism"},{"nz":0,"p":3.5,"n":31,"c":"Metabolism"},{"nz":0.15,"p":5.5,"n":25,"c":"Metabolism"},{"nz":0.17,"p":6,"n":25,"c":"Metabolism"},{"nz":0.33,"p":5.5,"n":19,"c":"Metabolism"},{"nz":0.48,"p":5.8,"n":36,"c":"Metabolism"},{"nz":0.43,"p":5,"n":25,"c":"Metabolism"},{"nz":0.6,"p":5.3,"n":25,"c":"Metabolism"},{"nz":0.65,"p":4.5,"n":36,"c":"Metabolism"},{"nz":0.73,"p":8,"n":36,"c":"Metabolism"},{"nz":0.8,"p":7.2,"n":19,"c":"Metabolism"},{"nz":0.85,"p":7,"n":19,"c":"Metabolism"},{"nz":0.85,"p":5.5,"n":36,"c":"Metabolism"},{"nz":0.72,"p":4,"n":31,"c":"Metabolism"},{"nz":0.75,"p":3.8,"n":25,"c":"Metabolism"},{"nz":0.35,"p":3.5,"n":25,"c":"Metabolism"},{"nz":0.33,"p":2.2,"n":25,"c":"Metabolism"},{"nz":0.45,"p":2.7,"n":25,"c":"Metabolism"},{"nz":0.53,"p":3.7,"n":25,"c":"Metabolism"},{"nz":0.55,"p":2.5,"n":25,"c":"Metabolism"},{"nz":0.58,"p":1.8,"n":16,"c":"Metabolism"},{"nz":0.7,"p":1.8,"n":19,"c":"Metabolism"},{"nz":0.85,"p":2.5,"n":36,"c":"Metabolism"},{"nz":1.02,"p":2,"n":16,"c":"Metabolism"},{"nz":1.02,"p":2.3,"n":16,"c":"Metabolism"},{"nz":0.33,"p":1.5,"n":16,"c":"Metabolism"},{"nz":0.45,"p":1.5,"n":13,"c":"Metabolism"},{"nz":-0.96,"p":6.5,"n":52,"c":"Environmental Information Processing"},{"nz":-0.8,"p":7,"n":85,"c":"Environmental Information Processing"},{"nz":-0.7,"p":6.5,"n":49,"c":"Environmental Information Processing"},{"nz":-0.6,"p":3.5,"n":81,"c":"Environmental Information Processing"},{"nz":-0.45,"p":2.5,"n":36,"c":"Environmental Information Processing"},{"nz":-0.55,"p":3.8,"n":64,"c":"Environmental Information Processing"},{"nz":-0.55,"p":2.8,"n":81,"c":"Environmental Information Processing"},{"nz":-0.52,"p":5.5,"n":196,"c":"Human Diseases"},{"nz":-0.5,"p":4.5,"n":100,"c":"Human Diseases"},{"nz":-0.05,"p":7.8,"n":49,"c":"Human Diseases"},{"nz":0,"p":3.8,"n":81,"c":"Human Diseases"},{"nz":-0.8,"p":3.2,"n":64,"c":"Human Diseases"},{"nz":-0.75,"p":2,"n":81,"c":"Human Diseases"},{"nz":-0.7,"p":3.2,"n":64,"c":"Human Diseases"},{"nz":-0.6,"p":3,"n":64,"c":"Human Diseases"},{"nz":-0.65,"p":1.3,"n":121,"c":"Human Diseases"},{"nz":-0.6,"p":1.8,"n":64,"c":"Human Diseases"},{"nz":-0.45,"p":1.6,"n":100,"c":"Human Diseases"},{"nz":-0.4,"p":1.5,"n":64,"c":"Human Diseases"},{"nz":-0.55,"p":1.3,"n":64,"c":"Human Diseases"},{"nz":-0.42,"p":1.9,"n":64,"c":"Human Diseases"},{"nz":-0.5,"p":1.4,"n":49,"c":"Human Diseases"},{"nz":-0.3,"p":1.6,"n":31,"c":"Human Diseases"},{"nz":-0.2,"p":1.6,"n":36,"c":"Human Diseases"},{"nz":-0.03,"p":1.5,"n":31,"c":"Human Diseases"},{"nz":0.1,"p":1.3,"n":36,"c":"Human Diseases"},{"nz":0.15,"p":3,"n":49,"c":"Human Diseases"},{"nz":0.15,"p":1.8,"n":36,"c":"Human Diseases"},{"nz":0.7,"p":4.8,"n":25,"c":"Human Diseases"},{"nz":-0.8,"p":5.8,"n":64,"c":"Cellular Processes"},{"nz":-0.7,"p":1.7,"n":49,"c":"Cellular Processes"},{"nz":-0.6,"p":2.5,"n":49,"c":"Cellular Processes"},{"nz":-0.52,"p":2.8,"n":31,"c":"Cellular Processes"},{"nz":-0.05,"p":7.7,"n":31,"c":"Cellular Processes"},{"nz":0.8,"p":2.5,"n":31,"c":"Cellular Processes"}]},"mark":{"type":"circle","opacity":0.6},"encoding":{"size":{"field":"n","type":"quantitative","legend":null,"scale":{"domain":[0,100],"range":[0,218]}},"color":{"field":"c","type":"nominal","scale":{"domain":["Organismal Systems","Metabolism","Human Diseases","Environmental Information Processing","Cellular Processes"],"range":["#ecaf4a","#79aae0","#cf3a6c","#9cbf27","#9563b3"]},"legend":{"orient":"none","legendX":21,"legendY":1029,"title":"KEGG A Class","titleOrient":"left","titleFontSize":6,"titleFontWeight":"normal","direction":"vertical","columns":3,"symbolSize":6,"symbolType":"circle","labelFontSize":3.8,"labelColor":"#444","labelLimit":200,"columnPadding":6,"rowPadding":1}}}}
]},
{"data":{"values":[{"id":"ID","d":"Description","c":"Header"},{"id":"ko04610","d":"Complement and coagulation cascades","c":"Organismal Systems"},{"id":"ko00260","d":"Glycine, serine and threonine metabolism","c":"Metabolism"},{"id":"ko05133","d":"Pertussis","c":"Human Diseases"},{"id":"ko00010","d":"Glycolysis / Gluconeogenesis","c":"Metabolism"},{"id":"ko00100","d":"Steroid biosynthesis","c":"Metabolism"},{"id":"ko00625","d":"Chloroalkane and chloroalkene degradation","c":"Metabolism"},{"id":"ko04060","d":"Cytokine\u2212cytokine receptor interaction","c":"Environmental Information Processing"},{"id":"ko04512","d":"ECM\u2212receptor interaction","c":"Environmental Information Processing"},{"id":"ko04061","d":"Viral protein interaction with cytokine and cytokine receptor","c":"Environmental Information Processing"},{"id":"ko03320","d":"PPAR signaling pathway","c":"Organismal Systems"},{"id":"ko00680","d":"Methane metabolism","c":"Metabolism"},{"id":"ko05205","d":"Proteoglycans in cancer","c":"Human Diseases"},{"id":"ko00830","d":"Retinol metabolism","c":"Metabolism"},{"id":"ko00710","d":"Carbon fixation in photosynthetic organisms","c":"Metabolism"},{"id":"ko00071","d":"Fatty acid degradation","c":"Metabolism"},{"id":"ko04510","d":"Focal adhesion","c":"Cellular Processes"},{"id":"ko00410","d":"beta\u2212Alanine metabolism","c":"Metabolism"},{"id":"ko05200","d":"Pathways in cancer","c":"Human Diseases"},{"id":"ko00561","d":"Glycerolipid metabolism","c":"Metabolism"},{"id":"ko04810","d":"Regulation of actin cytoskeleton","c":"Cellular Processes"}]},
"encoding":{"y":{"field":"d","type":"nominal","sort":null,"axis":null,"scale":{"type":"band","range":[847.7,1031.7],"paddingInner":0.08,"paddingOuter":0.04}},"color":{"field":"c","type":"nominal","legend":null,"scale":{"domain":["Header","Organismal Systems","Metabolism","Human Diseases","Environmental Information Processing","Cellular Processes"],"range":["#cccccc","#f5c985","#a5c5e8","#dc7f9c","#b7cf55","#b18fc8"]}}},
"resolve":{"scale":{"x":"independent"}},
"layer":[
{"mark":"rect","encoding":{"x":{"datum":0,"type":"quantitative","axis":null,"scale":{"domain":[0,1],"range":[226,247]}},"x2":{"datum":1}}},
{"mark":"rect","encoding":{"x":{"datum":0,"type":"quantitative","axis":null,"scale":{"domain":[0,1],"range":[248,360]}},"x2":{"datum":1}}},
{"mark":{"type":"text","fontSize":3.6,"color":"#222"},"encoding":{"color":{"value":"#222"},"x":{"datum":0.5,"type":"quantitative","scale":{"domain":[0,1],"range":[226,247]},"axis":null},"text":{"field":"id"}}},
{"mark":{"type":"text","fontSize":3.9,"color":"#222"},"encoding":{"color":{"value":"#222"},"x":{"datum":0.5,"type":"quantitative","scale":{"domain":[0,1],"range":[248,360]},"axis":null},"text":{"field":"d"}}}
]},

{"encoding":{"x":{"field":"x","type":"quantitative","axis":null,"scale":{"domain":[0,1167],"range":[400,789],"nice":false,"zero":false}},"y":{"field":"y","type":"quantitative","axis":null,"scale":{"domain":[0,840],"range":[780,1060],"nice":false,"zero":false}}},
"layer":[
{"data":{"name":"net"},"transform":[{"filter":"datum.h"},{"lookup":"h","from":{"data":{"name":"hubs"},"key":"h","fields":["hx","hy"]}}],"mark":{"type":"rule","color":"#7f7bb8","strokeWidth":0.6,"strokeDash":[2,1]},"encoding":{"x2":{"field":"hx"},"y2":{"field":"hy"}}},
{"data":{"name":"net"},"transform":[{"filter":"datum.h2"},{"lookup":"h2","from":{"data":{"name":"hubs"},"key":"h","fields":["hx","hy"]}}],"mark":{"type":"rule","color":"#7f7bb8","strokeWidth":0.6},"encoding":{"x2":{"field":"hx"},"y2":{"field":"hy"}}},
{"data":{"name":"net"},"mark":{"type":"point","filled":true,"opacity":1},"encoding":{"shape":{"field":"k","type":"nominal","legend":null,"scale":{"domain":["g","b","G","O","F"],"range":["triangle-up","triangle-up","square","square","circle"]}},"size":{"field":"k","type":"nominal","legend":null,"scale":{"type":"ordinal","domain":["g","b","G","O","F"],"range":[70,529,280,150,22]}},"color":{"field":"k","type":"nominal","legend":null,"scale":{"domain":["g","b","G","O","F"],"range":["#5b9a8f","#c9197f","#c8335a","#cc8a12","#5b9a8f"]}}}},
{"data":{"name":"net"},"transform":[{"filter":"datum.k=='g'"}],"mark":{"type":"text","font":"Liberation Serif","fontSize":4.8,"color":"#333","dy":-5.5},"encoding":{"text":{"field":"n"}}},
{"data":{"name":"net"},"transform":[{"filter":"datum.k=='b'"}],"mark":{"type":"text","font":"Liberation Serif","fontSize":4.8,"color":"#333","dy":-9},"encoding":{"text":{"field":"n"}}},
{"data":{"values":[{"n":"Fatty acid degradation","x":500,"y":243},{"n":"Glycolysis / Gluconeogenesis","x":308,"y":536},{"n":"Glycine, serine and threonine metabolism","x":690,"y":513},{"n":"Pathway-Gene","x":1062,"y":246},{"n":"Node Shape:","x":1073,"y":284},{"n":"Pathway","x":1072,"y":333},{"n":"Gene","x":1062,"y":365},{"n":"Node Color:","x":1062,"y":395},{"n":"( Pathway ) Degree","x":1095,"y":422},{"n":"14","x":1040,"y":453},{"n":"18.5","x":1085,"y":453},{"n":"23","x":1135,"y":453},{"n":"( Gene ) Degree","x":1085,"y":478},{"n":"1","x":1040,"y":507},{"n":"1.5","x":1092,"y":507},{"n":"2","x":1135,"y":507},{"n":"Node Size:","x":1068,"y":546},{"n":"(Pathway)Degree","x":1090,"y":577},{"n":"1","x":1040,"y":607},{"n":"2.5","x":1078,"y":607},{"n":"4","x":1115,"y":607},{"n":"(Gene)Degree","x":1065,"y":633},{"n":"2","x":1040,"y":666},{"n":"3.5","x":1078,"y":666},{"n":"5","x":1115,"y":666}]},"mark":{"type":"text","font":"Liberation Serif","fontSize":4.6,"color":"#333"},"encoding":{"text":{"field":"n"}}},
{"data":{"values":[{"x":1035,"x2":1140,"y":432,"y2":442},{"x":1035,"x2":1140,"y":483,"y2":495}]},"mark":{"type":"rect","color":{"gradient":"linear","x1":0,"x2":1,"y1":0,"y2":0,"stops":[{"offset":0,"color":"#5b9e8f"},{"offset":0.5,"color":"#d2a11c"},{"offset":1,"color":"#d6197e"}]}},"encoding":{"x2":{"field":"x2"},"y2":{"field":"y2"}}}
]},
{"data":{"values":[{"x":1038,"y":328,"k":"p"},{"x":1038,"y":358,"k":"t"},{"x":1040,"y":590,"k":"a"},{"x":1078,"y":590,"k":"m"},{"x":1115,"y":589,"k":"c"},{"x":1040,"y":646,"k":"a"},{"x":1078,"y":646,"k":"m"},{"x":1115,"y":646,"k":"c"}]},"mark":{"type":"point","filled":true,"color":"#000","opacity":1},"encoding":{"x":{"field":"x","type":"quantitative","axis":null,"scale":{"domain":[0,1167],"range":[400,789],"nice":false,"zero":false}},"y":{"field":"y","type":"quantitative","axis":null,"scale":{"domain":[0,840],"range":[780,1060],"nice":false,"zero":false}},"shape":{"field":"k","type":"nominal","legend":null,"scale":{"domain":["p","t","a","m","c"],"range":["circle","triangle-up","circle","circle","circle"]}},"size":{"field":"k","type":"nominal","legend":null,"scale":{"type":"ordinal","domain":["p","t","a","m","c"],"range":[14,7,1,4,12]}}}},

{"data":{"values":[{"g":"gene-cat","c":"CON-1","v":1.2},{"g":"gene-cat","c":"CON-3","v":0.7},{"g":"gene-cat","c":"CON-2","v":0.5},{"g":"gene-cat","c":"FSBM-1","v":-1.8},{"g":"gene-cat","c":"FSBM-2","v":-0.3},{"g":"gene-cat","c":"FSBM-3","v":-0.4},{"g":"gene-sod1","c":"CON-1","v":0.5},{"g":"gene-sod1","c":"CON-3","v":0.3},{"g":"gene-sod1","c":"CON-2","v":1.5},{"g":"gene-sod1","c":"FSBM-1","v":-1.8},{"g":"gene-sod1","c":"FSBM-2","v":-0.1},{"g":"gene-sod1","c":"FSBM-3","v":-0.8},{"g":"gene-myeloperoxidase","c":"CON-1","v":2},{"g":"gene-myeloperoxidase","c":"CON-3","v":0.5},{"g":"gene-myeloperoxidase","c":"CON-2","v":-0.3},{"g":"gene-myeloperoxidase","c":"FSBM-1","v":-0.9},{"g":"gene-myeloperoxidase","c":"FSBM-2","v":-0.7},{"g":"gene-myeloperoxidase","c":"FSBM-3","v":-0.9},{"g":"gene-gpx1b","c":"CON-1","v":2},{"g":"gene-gpx1b","c":"CON-3","v":0.5},{"g":"gene-gpx1b","c":"CON-2","v":0},{"g":"gene-gpx1b","c":"FSBM-1","v":-0.95},{"g":"gene-gpx1b","c":"FSBM-2","v":-0.8},{"g":"gene-gpx1b","c":"FSBM-3","v":-1},{"g":"gene-ptgs2b","c":"CON-1","v":0.4},{"g":"gene-ptgs2b","c":"CON-3","v":1.8},{"g":"gene-ptgs2b","c":"CON-2","v":0.5},{"g":"gene-ptgs2b","c":"FSBM-1","v":-0.8},{"g":"gene-ptgs2b","c":"FSBM-2","v":-1},{"g":"gene-ptgs2b","c":"FSBM-3","v":-1},{"g":"gene-Thioredoxin","c":"CON-1","v":1.3},{"g":"gene-Thioredoxin","c":"CON-3","v":1.2},{"g":"gene-Thioredoxin","c":"CON-2","v":0.3},{"g":"gene-Thioredoxin","c":"FSBM-1","v":-1},{"g":"gene-Thioredoxin","c":"FSBM-2","v":-0.85},{"g":"gene-Thioredoxin","c":"FSBM-3","v":-1.2},{"g":"gene-nqo1","c":"CON-1","v":-1},{"g":"gene-nqo1","c":"CON-3","v":-1.6},{"g":"gene-nqo1","c":"CON-2","v":0.9},{"g":"gene-nqo1","c":"FSBM-1","v":-0.8},{"g":"gene-nqo1","c":"FSBM-2","v":1.2},{"g":"gene-nqo1","c":"FSBM-3","v":0.9},{"g":"gene-prostaglandin G/H synthase 1","c":"CON-1","v":-0.9},{"g":"gene-prostaglandin G/H synthase 1","c":"CON-3","v":-0.8},{"g":"gene-prostaglandin G/H synthase 1","c":"CON-2","v":-0.3},{"g":"gene-prostaglandin G/H synthase 1","c":"FSBM-1","v":0.6},{"g":"gene-prostaglandin G/H synthase 1","c":"FSBM-2","v":-0.7},{"g":"gene-prostaglandin G/H synthase 1","c":"FSBM-3","v":2},{"g":"gene-gstt2","c":"CON-1","v":-1},{"g":"gene-gstt2","c":"CON-3","v":0},{"g":"gene-gstt2","c":"CON-2","v":-1.5},{"g":"gene-gstt2","c":"FSBM-1","v":-0.2},{"g":"gene-gstt2","c":"FSBM-2","v":1.3},{"g":"gene-gstt2","c":"FSBM-3","v":1.2},{"g":"gene-keap1a","c":"CON-1","v":0},{"g":"gene-keap1a","c":"CON-3","v":-1.3},{"g":"gene-keap1a","c":"CON-2","v":-0.5},{"g":"gene-keap1a","c":"FSBM-1","v":2},{"g":"gene-keap1a","c":"FSBM-2","v":-0.6},{"g":"gene-keap1a","c":"FSBM-3","v":-0.2}]},
"mark":{"type":"circle","size":194,"opacity":1},"encoding":{"x":{"field":"c","type":"nominal","sort":null,"title":null,"scale":{"type":"point","range":[95,176],"padding":0},"axis":{"orient":"bottom","offset":-264,"domain":false,"tickColor":"#999","tickSize":3,"labelAngle":45,"labelFont":"Liberation Serif","labelFontSize":9.5,"labelColor":"#222","labelAlign":"left","labelBaseline":"top","labelPadding":2}},"y":{"field":"g","type":"nominal","sort":null,"title":null,"scale":{"type":"point","range":[1151.7,1297.3],"padding":0},"axis":{"orient":"right","offset":-600.5,"domain":false,"ticks":false,"labelFont":"Liberation Serif","labelFontSize":9,"labelColor":"#222","labelLimit":200}},"color":{"field":"v","type":"quantitative","scale":{"domain":[-2.1,-1,0,1,2],"range":["#6ab82e","#137a3a","#0a0a0a","#8a1c20","#ed1c24"]},"legend":{"orient":"none","legendX":324,"legendY":1176,"gradientLength":64,"gradientThickness":10,"title":null,"values":[-1,0,1,2],"labelExpr":"''+datum.value","labelFont":"Liberation Serif","labelFontWeight":"bold","labelFontSize":8,"labelColor":"#000"}}}},
{"data":{"values":[{"g":"CON","x":0,"x2":3,"a":0,"b":1},{"g":"FSBM","x":3,"x2":6,"a":0,"b":1}]},"mark":"rect","encoding":{"x":{"field":"x","type":"quantitative","axis":null,"scale":{"domain":[0,6],"range":[87,184.3],"nice":false}},"x2":{"field":"x2"},"y":{"field":"a","type":"quantitative","axis":null,"scale":{"domain":[0,1],"range":[1140.7,1130.7]}},"y2":{"field":"b"},"color":{"field":"g","type":"nominal","scale":{"domain":["CON","FSBM"],"range":["#f28e3f","#fcc99b"]},"legend":{"orient":"none","legendX":356.5,"legendY":1173,"title":null,"symbolType":"square","symbolSize":64,"symbolStrokeWidth":0,"symbolOpacity":1,"labelFont":"Liberation Serif","labelFontWeight":"bold","labelFontSize":8,"labelColor":"#222","rowPadding":6}}}},
{"data":{"values":[{"x":0,"x2":1,"y":10,"y2":10},{"x":0,"x2":0,"y":0,"y2":10},{"x":1,"x2":1,"y":0,"y2":10},{"x":0.5,"x2":2,"y":34,"y2":34},{"x":0.5,"x2":0.5,"y":10,"y2":34},{"x":2,"x2":2,"y":0,"y2":34},{"x":4,"x2":5,"y":10,"y2":10},{"x":4,"x2":4,"y":0,"y2":10},{"x":5,"x2":5,"y":0,"y2":10},{"x":3,"x2":4.5,"y":34,"y2":34},{"x":3,"x2":3,"y":0,"y2":34},{"x":4.5,"x2":4.5,"y":10,"y2":34},{"x":1.25,"x2":3.75,"y":60,"y2":60},{"x":1.25,"x2":1.25,"y":34,"y2":60},{"x":3.75,"x2":3.75,"y":34,"y2":60}]},"mark":{"type":"rule","color":"#7f7f7f","strokeWidth":1.2},"encoding":{"x":{"field":"x","type":"quantitative","axis":null,"scale":{"domain":[-0.5,5.5],"range":[87,184.3],"nice":false,"zero":false}},"x2":{"field":"x2"},"y":{"field":"y","type":"quantitative","axis":null,"scale":{"domain":[0,60],"range":[1130.7,1110.7],"nice":false}},"y2":{"field":"y2"}}},
{"data":{"values":[{"x":64,"x2":64,"y":0,"y2":1},{"x":0,"x2":64,"y":0,"y2":0},{"x":0,"x2":64,"y":1,"y2":1},{"x":48,"x2":48,"y":2,"y2":3},{"x":0,"x2":48,"y":2,"y2":2},{"x":0,"x2":48,"y":3,"y2":3},{"x":48,"x2":48,"y":4,"y2":5},{"x":0,"x2":48,"y":4,"y2":4},{"x":0,"x2":48,"y":5,"y2":5},{"x":64,"x2":64,"y":2.5,"y2":4.5},{"x":48,"x2":64,"y":2.5,"y2":2.5},{"x":48,"x2":64,"y":4.5,"y2":4.5},{"x":81,"x2":81,"y":0.5,"y2":3.5},{"x":64,"x2":81,"y":0.5,"y2":0.5},{"x":64,"x2":81,"y":3.5,"y2":3.5},{"x":48,"x2":48,"y":7,"y2":8},{"x":0,"x2":48,"y":7,"y2":7},{"x":0,"x2":48,"y":8,"y2":8},{"x":64,"x2":64,"y":6,"y2":7.5},{"x":0,"x2":64,"y":6,"y2":6},{"x":48,"x2":64,"y":7.5,"y2":7.5},{"x":81,"x2":81,"y":6.75,"y2":9},{"x":64,"x2":81,"y":6.75,"y2":6.75},{"x":0,"x2":81,"y":9,"y2":9},{"x":98,"x2":98,"y":2,"y2":7.88},{"x":81,"x2":98,"y":2,"y2":2},{"x":81,"x2":98,"y":7.88,"y2":7.88}]},"mark":{"type":"rule","color":"#7f7f7f","strokeWidth":1.2},"encoding":{"x":{"field":"x","type":"quantitative","axis":null,"scale":{"domain":[0,98],"range":[87,54.3],"nice":false}},"x2":{"field":"x2"},"y":{"field":"y","type":"quantitative","axis":null,"scale":{"domain":[0,9],"range":[1151.7,1297.3],"nice":false,"zero":false}},"y2":{"field":"y2"}}},

{"data":{"values":[{"g":"gene-ggt5b","c":"CON-1","v":1.5},{"g":"gene-ggt5b","c":"CON-2","v":0.3},{"g":"gene-ggt5b","c":"CON-3","v":0.8},{"g":"gene-ggt5b","c":"FSBM-1","v":-1},{"g":"gene-ggt5b","c":"FSBM-2","v":-1},{"g":"gene-ggt5b","c":"FSBM-3","v":-1},{"g":"gene-gsto1","c":"CON-1","v":1.3},{"g":"gene-gsto1","c":"CON-2","v":0.85},{"g":"gene-gsto1","c":"CON-3","v":0.7},{"g":"gene-gsto1","c":"FSBM-1","v":-1},{"g":"gene-gsto1","c":"FSBM-2","v":-1},{"g":"gene-gsto1","c":"FSBM-3","v":-1},{"g":"gene-odc1","c":"CON-1","v":1.35},{"g":"gene-odc1","c":"CON-2","v":0.85},{"g":"gene-odc1","c":"CON-3","v":0.5},{"g":"gene-odc1","c":"FSBM-1","v":-1},{"g":"gene-odc1","c":"FSBM-2","v":-1},{"g":"gene-odc1","c":"FSBM-3","v":-1},{"g":"gene-tm4sf4","c":"CON-1","v":1.7},{"g":"gene-tm4sf4","c":"CON-2","v":0.7},{"g":"gene-tm4sf4","c":"CON-3","v":0.2},{"g":"gene-tm4sf4","c":"FSBM-1","v":-1},{"g":"gene-tm4sf4","c":"FSBM-2","v":-0.95},{"g":"gene-tm4sf4","c":"FSBM-3","v":-1},{"g":"gene-rrm1","c":"CON-1","v":1.7},{"g":"gene-rrm1","c":"CON-2","v":0},{"g":"gene-rrm1","c":"CON-3","v":0.8},{"g":"gene-rrm1","c":"FSBM-1","v":-1},{"g":"gene-rrm1","c":"FSBM-2","v":-1},{"g":"gene-rrm1","c":"FSBM-3","v":-0.8},{"g":"gene-idh2","c":"CON-1","v":1.55},{"g":"gene-idh2","c":"CON-2","v":0.1},{"g":"gene-idh2","c":"CON-3","v":0.95},{"g":"gene-idh2","c":"FSBM-1","v":-1},{"g":"gene-idh2","c":"FSBM-2","v":-1},{"g":"gene-idh2","c":"FSBM-3","v":-1},{"g":"gene-gpx1b","c":"CON-1","v":2},{"g":"gene-gpx1b","c":"CON-2","v":0.05},{"g":"gene-gpx1b","c":"CON-3","v":0.3},{"g":"gene-gpx1b","c":"FSBM-1","v":-1},{"g":"gene-gpx1b","c":"FSBM-2","v":-0.85},{"g":"gene-gpx1b","c":"FSBM-3","v":-1},{"g":"gene-oplah","c":"CON-1","v":-1},{"g":"gene-oplah","c":"CON-2","v":-0.3},{"g":"gene-oplah","c":"CON-3","v":-1},{"g":"gene-oplah","c":"FSBM-1","v":-0.2},{"g":"gene-oplah","c":"FSBM-2","v":0.15},{"g":"gene-oplah","c":"FSBM-3","v":2}]},
"mark":{"type":"circle","size":235,"opacity":1},"encoding":{"x":{"field":"c","type":"nominal","sort":null,"title":null,"scale":{"type":"point","range":[512,601.7],"padding":0},"axis":{"orient":"bottom","offset":-288,"domain":false,"tickColor":"#999","tickSize":3,"labelAngle":45,"labelFont":"Liberation Serif","labelFontSize":9.5,"labelColor":"#222","labelAlign":"left","labelBaseline":"top","labelPadding":4}},"y":{"field":"g","type":"nominal","sort":null,"title":null,"scale":{"type":"point","range":[1148.3,1273.3],"padding":0},"axis":{"orient":"right","offset":-173.5,"domain":false,"ticks":false,"labelFont":"Liberation Serif","labelFontSize":9.8,"labelColor":"#222","labelLimit":200}},"color":{"field":"v","type":"quantitative","scale":{"domain":[-1.15,-1,0,0.55,1.3,2],"range":["#6fb92d","#6fb92d","#0f5a2d","#0a0a0a","#7b1b1f","#ed1c24"]},"legend":{"orient":"none","legendX":675,"legendY":1158,"gradientLength":70,"gradientThickness":10,"title":null,"values":[-1,0,1,2],"labelExpr":"''+datum.value","labelFont":"Liberation Serif","labelFontWeight":"bold","labelFontSize":8,"labelColor":"#000"}}}},
{"data":{"values":[{"g":"CON","x":0,"x2":3,"a":0,"b":1},{"g":"FSBM","x":3,"x2":6,"a":0,"b":1}]},"mark":"rect","encoding":{"x":{"field":"x","type":"quantitative","axis":null,"scale":{"domain":[0,6],"range":[503,610.7],"nice":false}},"x2":{"field":"x2"},"y":{"field":"a","type":"quantitative","axis":null,"scale":{"domain":[0,1],"range":[1136,1125]}},"y2":{"field":"b"},"color":{"field":"g","type":"nominal","scale":{"domain":["CON","FSBM"],"range":["#f28e3f","#fcc99b"]},"legend":{"orient":"none","legendX":710.5,"legendY":1152,"title":null,"symbolType":"square","symbolSize":72,"symbolStrokeWidth":0,"symbolOpacity":1,"labelFont":"Liberation Serif","labelFontWeight":"bold","labelFontSize":8.5,"labelColor":"#222","rowPadding":7}}}},
{"data":{"values":[{"x":1,"x2":2,"y":12,"y2":12},{"x":1,"x2":1,"y":0,"y2":12},{"x":2,"x2":2,"y":0,"y2":12},{"x":0,"x2":1.5,"y":39,"y2":39},{"x":0,"x2":0,"y":0,"y2":39},{"x":1.5,"x2":1.5,"y":12,"y2":39},{"x":3,"x2":4,"y":12,"y2":12},{"x":3,"x2":3,"y":0,"y2":12},{"x":4,"x2":4,"y":0,"y2":12},{"x":3.5,"x2":5,"y":39,"y2":39},{"x":3.5,"x2":3.5,"y":12,"y2":39},{"x":5,"x2":5,"y":0,"y2":39},{"x":0.75,"x2":4.25,"y":67,"y2":67},{"x":0.75,"x2":0.75,"y":39,"y2":67},{"x":4.25,"x2":4.25,"y":39,"y2":67}]},"mark":{"type":"rule","color":"#7f7f7f","strokeWidth":1.2},"encoding":{"x":{"field":"x","type":"quantitative","axis":null,"scale":{"domain":[-0.5,5.5],"range":[503,610.7],"nice":false,"zero":false}},"x2":{"field":"x2"},"y":{"field":"y","type":"quantitative","axis":null,"scale":{"domain":[0,67],"range":[1125,1102.7],"nice":false}},"y2":{"field":"y2"}}},
{"data":{"values":[{"x":56,"x2":56,"y":1,"y2":2},{"x":0,"x2":56,"y":1,"y2":1},{"x":0,"x2":56,"y":2,"y2":2},{"x":67,"x2":67,"y":0,"y2":1.5},{"x":0,"x2":67,"y":0,"y2":0},{"x":56,"x2":67,"y":1.5,"y2":1.5},{"x":81,"x2":81,"y":0.75,"y2":3},{"x":67,"x2":81,"y":0.75,"y2":0.75},{"x":0,"x2":81,"y":3,"y2":3},{"x":67,"x2":67,"y":4,"y2":5},{"x":0,"x2":67,"y":4,"y2":4},{"x":0,"x2":67,"y":5,"y2":5},{"x":81,"x2":81,"y":4.5,"y2":6},{"x":67,"x2":81,"y":4.5,"y2":4.5},{"x":0,"x2":81,"y":6,"y2":6},{"x":94,"x2":94,"y":1.9,"y2":5.25},{"x":81,"x2":94,"y":1.9,"y2":1.9},{"x":81,"x2":94,"y":5.25,"y2":5.25},{"x":109,"x2":109,"y":3.6,"y2":7},{"x":94,"x2":109,"y":3.6,"y2":3.6},{"x":0,"x2":109,"y":7,"y2":7}]},"mark":{"type":"rule","color":"#7f7f7f","strokeWidth":1.2},"encoding":{"x":{"field":"x","type":"quantitative","axis":null,"scale":{"domain":[0,109],"range":[503,466.7],"nice":false}},"x2":{"field":"x2"},"y":{"field":"y","type":"quantitative","axis":null,"scale":{"domain":[0,7],"range":[1148.3,1273.3],"nice":false,"zero":false}},"y2":{"field":"y2"}}},

{"data":{"name":"i"},"encoding":{"x":{"field":"g","type":"nominal","sort":null,"title":null,"scale":{"type":"band","range":[271.7,503.3],"paddingInner":0.25,"paddingOuter":0.125},"axis":{"orient":"bottom","offset":-49.3,"labelAngle":-45,"labelFontSize":12,"labelFontWeight":"bold","labelColor":"#000","labelAlign":"right","labelBaseline":"top","domainColor":"#000","domainWidth":1.3,"tickColor":"#000","tickWidth":1.3,"tickSize":4}},"xOffset":{"field":"s","type":"nominal","sort":null,"scale":{"paddingInner":0.21}}},
"layer":[
{"mark":{"type":"bar"},"encoding":{"y":{"field":"v","type":"quantitative","title":"Relative mRNA expression","scale":{"domain":[0,1.5],"range":[1522.7,1369.3],"nice":false},"axis":{"orient":"left","offset":-271.7,"values":[0,0.5,1,1.5],"format":".1f","labelFontSize":9.5,"labelFontWeight":"bold","labelColor":"#000","domainColor":"#000","domainWidth":1.3,"tickColor":"#000","tickWidth":1.3,"tickSize":4,"titleFontSize":12.5,"titleFontWeight":"bold","titleColor":"#000","titlePadding":6}},"color":{"field":"s","type":"nominal","scale":{"domain":["CON","FSBM"],"range":["#0a0a0a","#ed1c24"]},"legend":{"orient":"none","legendX":518,"legendY":1375,"title":null,"symbolType":"square","symbolSize":190,"symbolStrokeWidth":0,"symbolOpacity":1,"labelFontSize":12.5,"labelColor":"#222","labelOffset":12,"rowPadding":5}}}},
{"mark":{"type":"rule","strokeWidth":1.5},"encoding":{"y":{"field":"v","type":"quantitative"},"y2":{"field":"e"},"color":{"field":"s","type":"nominal"}}},
{"mark":{"type":"tick","orient":"horizontal","size":7,"thickness":1.5,"opacity":1},"encoding":{"y":{"field":"e","type":"quantitative"},"color":{"field":"s","type":"nominal"}}},
{"transform":[{"filter":"datum.st"}],"mark":{"type":"text","fontSize":9,"baseline":"bottom","dy":-1,"color":"#222"},"encoding":{"y":{"field":"e","type":"quantitative"},"text":{"field":"st"}}}
]}
]}
